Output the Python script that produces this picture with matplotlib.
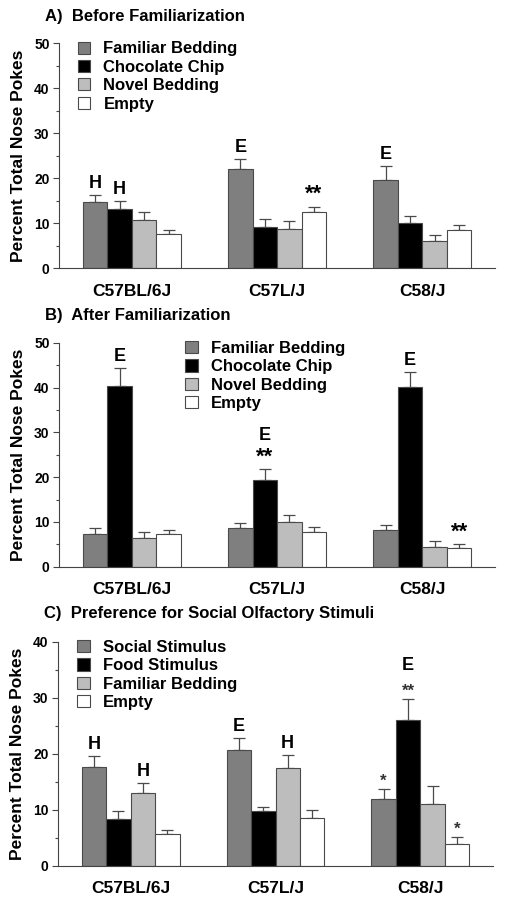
import numpy as np
import matplotlib
matplotlib.use("Agg")
import matplotlib.pyplot as plt
from matplotlib.ticker import MultipleLocator

plt.rcParams['font.family'] = ['Liberation Sans', 'DejaVu Sans']
plt.rcParams['font.weight'] = 'bold'

strains = ["C57BL/6J", "C57L/J", "C58/J"]
colors = ["#7f7f7f", "#000000", "#bdbdbd", "#ffffff"]

# panel A: before familiarization
a_labels = ["Familiar Bedding", "Chocolate Chip", "Novel Bedding", "Empty"]
a_means = [[14.7, 22.1, 19.6],
           [13.2, 9.2, 10.1],
           [10.7, 8.7, 6.1],
           [7.6, 12.5, 8.5]]
a_err = [[1.5, 2.1, 3.1],
         [1.7, 1.7, 1.5],
         [1.7, 1.7, 1.2],
         [0.8, 1.1, 1.1]]
a_marks = [(0, 0, ["H"]), (0, 1, ["H"]), (1, 0, ["E"]), (1, 3, ["**"]), (2, 0, ["E"])]

# panel B: after familiarization
b_labels = ["Familiar Bedding", "Chocolate Chip", "Novel Bedding", "Empty"]
b_means = [[7.4, 8.6, 8.3],
           [40.3, 19.3, 40.2],
           [6.5, 10.0, 4.5],
           [7.3, 7.8, 4.2]]
b_err = [[1.3, 1.2, 0.9],
         [4.0, 2.4, 3.3],
         [1.3, 1.5, 1.3],
         [1.0, 1.1, 0.8]]
b_marks = [(0, 1, ["E"]), (1, 1, ["**", "E"]), (2, 1, ["E"]), (2, 3, ["**"])]

# panel C: social olfactory stimuli
c_labels = ["Social Stimulus", "Food Stimulus", "Familiar Bedding", "Empty"]
c_means = [[17.6, 20.7, 11.9],
           [8.3, 9.8, 26.0],
           [12.9, 17.4, 11.1],
           [5.6, 8.5, 3.8]]
c_err = [[2.0, 2.1, 1.85],
         [1.4, 0.6, 3.8],
         [1.9, 2.4, 3.2],
         [0.7, 1.4, 1.4]]
c_marks = [(0, 0, ["H"]), (0, 2, ["H"]), (1, 0, ["E"]), (1, 2, ["H"]),
           (2, 0, ["*"]), (2, 1, ["**", "E"]), (2, 3, ["*"])]

W, H = 505, 898
fig = plt.figure(figsize=(W / 100, H / 100), dpi=100)

def px_axes(left, right, top, bottom):
    return fig.add_axes([left / W, 1 - bottom / H, (right - left) / W, (bottom - top) / H])

bw = 0.169

def panel(ax, title, labels, means, err, marks, ymax, leg_x, leg_y, title_y, small_star=False):
    x = np.arange(len(strains))
    for i in range(4):
        pos = x + (i - 1.5) * bw
        ax.bar(pos, means[i], bw, color=colors[i], edgecolor="#4a4a4a", linewidth=0.8,
               label=labels[i], zorder=2)
        ax.errorbar(pos, means[i], yerr=[np.zeros(3), err[i]], fmt="none",
                    ecolor="#4a4a4a", elinewidth=0.9, capsize=4.2, capthick=0.9, zorder=1)
    for g, s, txts in marks:
        xp = g + (s - 1.5) * bw
        top = means[s][g] + err[s][g]
        off = 5
        for t in txts:
            star = t.startswith("*")
            if star:
                fs = 12 if small_star else 16
                col = "#333333" if small_star else "black"
                y0 = off - (3 if small_star else 0)
            else:
                fs, col, y0 = 13, "black", off
            ax.annotate(t, (xp, top), xytext=(0, y0), textcoords="offset points",
                        ha="center", va="baseline", fontsize=fs, fontweight="bold", color=col)
            off += 16
    ax.set_xlim(-0.5, 2.5)
    ax.set_ylim(0, ymax)
    ax.set_xticks(x)
    ax.set_xticklabels(strains, fontsize=12.5, fontweight="bold")
    ax.tick_params(axis="x", length=0, pad=11)
    ax.yaxis.set_major_locator(MultipleLocator(10))
    ax.yaxis.set_minor_locator(MultipleLocator(5))
    ax.tick_params(axis="y", which="major", length=4, width=0.8, labelsize=10, pad=3, color="#444444")
    ax.tick_params(axis="y", which="minor", length=2, width=0.8, color="#444444")
    for lab in ax.get_yticklabels():
        lab.set_fontweight("bold")
    ax.spines["top"].set_visible(False)
    ax.spines["right"].set_visible(False)
    ax.spines["left"].set_color("#444444")
    ax.spines["bottom"].set_color("#444444")
    ax.set_ylabel("Percent Total Nose Pokes", fontsize=12.5, fontweight="bold", labelpad=6)
    ax.legend(loc="upper left", bbox_to_anchor=(leg_x, leg_y), frameon=False,
              fontsize=12, handlelength=0.75, handleheight=0.75, handletextpad=0.8,
              labelspacing=0.2, borderpad=0, borderaxespad=0)
    ax.text(-0.033, title_y, title, transform=ax.transAxes, fontsize=12, fontweight="bold",
            ha="left", va="center")

axA = px_axes(59.3, 495, 43.3, 268.3)
panel(axA, "A)  Before Familiarization", a_labels, a_means, a_err, a_marks, 50, 0.042, 1.008, 1.12)

axB = px_axes(59.3, 495, 342.7, 566.7)
panel(axB, "B)  After Familiarization", b_labels, b_means, b_err, b_marks, 50, 0.289, 1.008, 1.12)

axC = px_axes(58.3, 492.7, 641.7, 865.7)
panel(axC, "C)  Preference for Social Olfactory Stimuli", c_labels, c_means, c_err, c_marks, 40,
      0.044, 1.008, 1.128, small_star=True)

fig.savefig("out.png", dpi=100)
